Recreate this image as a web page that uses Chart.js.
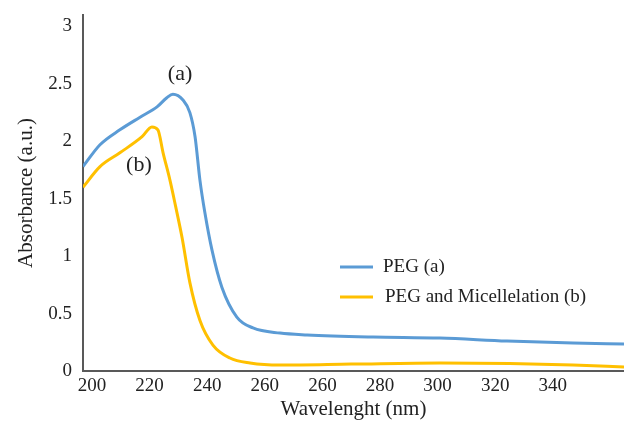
<!DOCTYPE html>
<html>
<head>
<meta charset="utf-8">
<script src="https://cdn.jsdelivr.net/npm/chart.js"></script>
<style>
	body{margin:0;background:#fff;}
	canvas{display:block;}
</style>
</head>
<body>
<canvas id="myChart" width="624" height="430"></canvas>
<script>
// wavelength positions (axis units) and absorbance
const wavelengthA = [196.9, 202.8, 209.7, 216.7, 222.6, 226.0, 228.1, 231.6, 234.0, 235.8, 237.5, 239.2, 241.7, 245.1, 250.3, 255.9, 265.3, 274.7, 297.6, 320.8, 344.1, 367.0, 384.7]
const absorbanceA = [1.78, 1.97, 2.10, 2.21, 2.30, 2.38, 2.41, 2.36, 2.25, 2.04, 1.66, 1.38, 1.05, 0.73, 0.47, 0.375, 0.33, 0.314, 0.296, 0.287, 0.261, 0.244, 0.235]

const wavelengthB = [196.9, 202.8, 209.7, 217.4, 220.8, 222.9, 224.7, 227.1, 229.0, 231.3, 234.0, 237.5, 242.0, 247.9, 254.9, 265.3, 290.0, 320.8, 345.0, 367.0, 384.7]
const absorbanceB = [1.60, 1.78, 1.90, 2.04, 2.125, 2.10, 1.90, 1.66, 1.44, 1.16, 0.77, 0.44, 0.226, 0.113, 0.07, 0.052, 0.06, 0.07, 0.065, 0.052, 0.035]

const seriesLabels = ['PEG (a)', 'PEG and Micellelation (b)']
const seriesColors = ['#5B9BD5', '#FFC000']

const xTicks = [200, 220, 240, 260, 280, 300, 320, 340, 360]
const xTickLabels = ['200', '220', '240', '260', '260', '280', '300', '320', '340']
const yTicks = [0, 0.5, 1, 1.5, 2, 2.5, 3]

const peakNotes = [
	{text: '(a)', x: 230.6, y: 2.58},
	{text: '(b)', x: 216.3, y: 1.79}
]

const serif = 'Liberation Serif, Times New Roman, serif'

function toPoints(xs, ys){
	return xs.map((x, i) => ({x: x, y: ys[i]}))
}

const notesPlugin = {
	id: 'notes',
	afterDatasetsDraw(chart){
		const c = chart.ctx
		const xs = chart.scales.x, ys = chart.scales.y
		c.save()
		c.fillStyle = '#222'
		c.textAlign = 'center'
		c.textBaseline = 'middle'
		c.font = '22px ' + serif
		peakNotes.forEach(n => {
			c.fillText(n.text, xs.getPixelForValue(n.x), ys.getPixelForValue(n.y))
		})
		// legend inside the plot
		const lx = 340, ly = 267, gap = 30
		c.font = '19px ' + serif
		c.textAlign = 'left'
		chart.data.datasets.forEach((ds, i) => {
			const y = ly + i * gap
			c.strokeStyle = ds.borderColor
			c.lineWidth = 3
			c.beginPath()
			c.moveTo(lx, y)
			c.lineTo(lx + 33, y)
			c.stroke()
			c.fillText(ds.label, lx + 43 + i * 2, y)
		})
		c.restore()
	}
}

const ctx = document.getElementById('myChart').getContext('2d')
new Chart(ctx, {
	type: 'line',
	data: {
		datasets: [
			{label: seriesLabels[0], data: toPoints(wavelengthA, absorbanceA), borderColor: seriesColors[0], backgroundColor: seriesColors[0]},
			{label: seriesLabels[1], data: toPoints(wavelengthB, absorbanceB), borderColor: seriesColors[1], backgroundColor: seriesColors[1]}
		]
	},
	options: {
		responsive: false,
		animation: false,
		layout: {padding: {top: 15, left: 0, right: 0, bottom: 0}},
		elements: {
			point: {radius: 0},
			line: {borderWidth: 3, cubicInterpolationMode: 'monotone'}
		},
		plugins: {
			legend: {display: false},
			tooltip: {enabled: false}
		},
		scales: {
			x: {
				type: 'linear',
				min: 196.9,
				max: 384.7,
				afterBuildTicks: s => { s.ticks = xTicks.map(v => ({value: v})) },
				afterFit: s => { s.height = 59 },
				grid: {display: false, drawTicks: false},
				border: {display: true, color: '#595959', width: 2},
				ticks: {
					callback: (v, i) => xTickLabels[i],
					font: {family: serif, size: 19},
					color: '#222',
					padding: 4,
					maxRotation: 0,
					autoSkip: false
				},
				title: {
					display: true,
					text: 'Wavelenght (nm)',
					font: {family: serif, size: 21},
					color: '#222',
					padding: {top: 0, bottom: 8}
				}
			},
			y: {
				min: 0,
				max: 3.1,
				afterBuildTicks: s => { s.ticks = yTicks.map(v => ({value: v})) },
				afterFit: s => { s.width = 83; s.paddingTop = 0; s.paddingBottom = 0 },
				grid: {display: false, drawTicks: false},
				border: {display: true, color: '#595959', width: 2},
				ticks: {
					callback: v => String(v),
					font: {family: serif, size: 19},
					color: '#222',
					padding: 11
				},
				title: {
					display: true,
					text: 'Absorbance (a.u.)',
					font: {family: serif, size: 21},
					color: '#222',
					padding: {top: 14, bottom: 0}
				}
			}
		}
	},
	plugins: [notesPlugin]
})
</script>
</body>
</html>
